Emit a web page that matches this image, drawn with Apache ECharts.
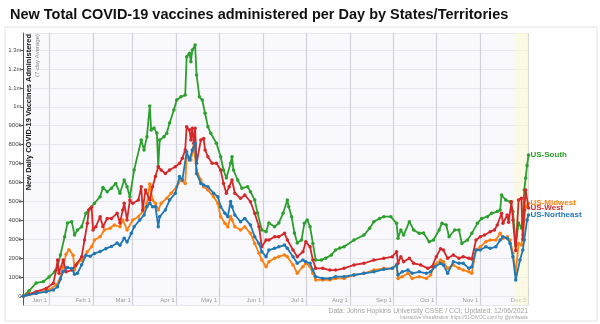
<!DOCTYPE html>
<html><head><meta charset="utf-8">
<script src="https://cdn.jsdelivr.net/npm/echarts@6/dist/echarts.min.js"></script>
<style>html,body{margin:0;padding:0;background:#fff}#c{width:600px;height:324px}</style>
</head><body><div id="c"></div>
<script>
// values in thousands of doses per day (7-day average)
const seriesNames = ['US-South', 'US-Midwest', 'US-West', 'US-Northeast'];
const seriesColors = ['#2ca02c', '#ff7f0e', '#d62728', '#1f77b4'];

const south = [
['2020-12-14',0],['2020-12-18',28],['2020-12-23',69],['2020-12-28',76],['2021-01-01',100],['2021-01-05',128],['2021-01-07',155],['2021-01-09',217],['2021-01-12',313],['2021-01-14',386],['2021-01-17',393],['2021-01-19',322],['2021-01-21',349],['2021-01-24',366],['2021-01-27',437],['2021-01-30',463],['2021-02-02',490],['2021-02-06',525],['2021-02-08',574],['2021-02-11',551],['2021-02-14',570],['2021-02-17',595],['2021-02-20',543],['2021-02-23',613],['2021-02-25',578],['2021-02-27',525],['2021-03-02',666],['2021-03-07',824],['2021-03-09',772],['2021-03-11',842],['2021-03-13',1004],['2021-03-14',877],['2021-03-16',888],['2021-03-18',861],['2021-03-19',683],['2021-03-20',824],['2021-03-23',842],['2021-03-25',860],['2021-03-27',914],['2021-03-30',983],['2021-04-01',1036],['2021-04-04',1053],['2021-04-07',1062],['2021-04-08',1265],['2021-04-10',1283],['2021-04-11',1238],['2021-04-12',1300],['2021-04-14',1326],['2021-04-15',1168],['2021-04-17',1053],['2021-04-19',1036],['2021-04-21',966],['2021-04-23',895],['2021-04-25',860],['2021-04-29',807],['2021-05-02',736],['2021-05-04',666],['2021-05-06',624],['2021-05-09',702],['2021-05-10',736],['2021-05-11',666],['2021-05-14',613],['2021-05-17',570],['2021-05-21',578],['2021-05-23',551],['2021-05-26',507],['2021-05-28',438],['2021-05-31',349],['2021-06-03',340],['2021-06-05',386],['2021-06-09',366],['2021-06-12',386],['2021-06-15',437],['2021-06-18',507],['2021-06-19',472],['2021-06-21',419],['2021-06-23',333],['2021-06-25',280],['2021-06-28',296],['2021-06-30',384],['2021-07-02',402],['2021-07-04',366],['2021-07-06',278],['2021-07-08',190],['2021-07-12',190],['2021-07-15',200],['2021-07-19',217],['2021-07-22',243],['2021-07-25',254],['2021-07-28',260],['2021-08-04',296],['2021-08-11',322],['2021-08-15',358],['2021-08-18',393],['2021-08-22',410],['2021-08-25',419],['2021-08-30',419],['2021-09-03',384],['2021-09-04',305],['2021-09-06',349],['2021-09-08',322],['2021-09-12',393],['2021-09-15',349],['2021-09-19',331],['2021-09-22',333],['2021-09-26',287],['2021-09-29',296],['2021-10-03',349],['2021-10-05',384],['2021-10-08',375],['2021-10-10',313],['2021-10-14',349],['2021-10-17',349],['2021-10-19',278],['2021-10-23',296],['2021-10-26',331],['2021-10-30',384],['2021-11-02',410],['2021-11-06',419],['2021-11-09',437],['2021-11-13',446],['2021-11-15',455],['2021-11-16',534],['2021-11-19',507],['2021-11-22',498],['2021-11-24',446],['2021-11-26',270],['2021-11-28',386],['2021-11-30',360],['2021-12-01',420],['2021-12-02',560],['2021-12-03',624],['2021-12-04',690],['2021-12-05',745]
];

const midwest = [
['2020-12-14',0],['2020-12-23',14],['2021-01-01',32],['2021-01-06',58],['2021-01-08',76],['2021-01-11',155],['2021-01-13',220],['2021-01-15',245],['2021-01-18',215],['2021-01-19',137],['2021-01-21',173],['2021-01-24',190],['2021-01-26',208],['2021-01-28',234],['2021-01-31',260],['2021-02-02',296],['2021-02-06',313],['2021-02-09',349],['2021-02-13',358],['2021-02-16',375],['2021-02-20',366],['2021-02-22',402],['2021-02-25',349],['2021-03-01',402],['2021-03-05',419],['2021-03-08',446],['2021-03-11',490],['2021-03-13',592],['2021-03-15',507],['2021-03-17',490],['2021-03-19',455],['2021-03-21',490],['2021-03-25',516],['2021-03-28',543],['2021-04-01',578],['2021-04-04',613],['2021-04-07',595],['2021-04-08',736],['2021-04-11',719],['2021-04-13',789],['2021-04-14',798],['2021-04-15',666],['2021-04-18',613],['2021-04-20',578],['2021-04-23',560],['2021-04-27',525],['2021-04-30',490],['2021-05-02',419],['2021-05-05',384],['2021-05-07',366],['2021-05-09',420],['2021-05-10',402],['2021-05-12',366],['2021-05-16',349],['2021-05-19',366],['2021-05-23',331],['2021-05-26',278],['2021-05-29',226],['2021-05-31',190],['2021-06-03',155],['2021-06-05',181],['2021-06-09',199],['2021-06-12',208],['2021-06-16',217],['2021-06-18',208],['2021-06-22',164],['2021-06-25',120],['2021-06-29',155],['2021-07-01',173],['2021-07-04',155],['2021-07-06',120],['2021-07-08',85],['2021-07-13',85],['2021-07-18',85],['2021-07-22',93],['2021-07-28',93],['2021-08-04',111],['2021-08-11',120],['2021-08-18',137],['2021-08-25',146],['2021-08-31',146],['2021-09-03',164],['2021-09-04',93],['2021-09-07',102],['2021-09-11',120],['2021-09-14',93],['2021-09-19',102],['2021-09-24',93],['2021-09-27',111],['2021-09-30',164],['2021-10-04',190],['2021-10-06',181],['2021-10-09',146],['2021-10-13',164],['2021-10-17',146],['2021-10-20',137],['2021-10-24',128],['2021-10-26',120],['2021-10-29',243],['2021-11-01',260],['2021-11-05',287],['2021-11-08',296],['2021-11-12',296],['2021-11-15',331],['2021-11-17',305],['2021-11-20',313],['2021-11-22',296],['2021-11-24',226],['2021-11-26',120],['2021-11-28',278],['2021-11-30',269],['2021-12-01',322],['2021-12-03',472],['2021-12-05',490]
];

const west = [
['2020-12-14',0],['2020-12-18',10],['2020-12-23',23],['2020-12-30',40],['2021-01-04',67],['2021-01-06',137],['2021-01-07',190],['2021-01-08',120],['2021-01-11',190],['2021-01-13',128],['2021-01-17',137],['2021-01-20',164],['2021-01-24',208],['2021-01-26',296],['2021-01-28',384],['2021-01-29',455],['2021-01-31',470],['2021-02-01',349],['2021-02-03',366],['2021-02-06',419],['2021-02-08',366],['2021-02-11',410],['2021-02-14',410],['2021-02-18',437],['2021-02-20',386],['2021-02-22',455],['2021-02-23',490],['2021-02-25',402],['2021-02-27',507],['2021-03-01',490],['2021-03-05',507],['2021-03-07',578],['2021-03-08',455],['2021-03-10',560],['2021-03-13',507],['2021-03-15',578],['2021-03-17',631],['2021-03-19',683],['2021-03-21',666],['2021-03-24',648],['2021-03-27',666],['2021-03-31',683],['2021-04-03',701],['2021-04-05',728],['2021-04-07',772],['2021-04-08',895],['2021-04-10',877],['2021-04-11',824],['2021-04-12',886],['2021-04-13',807],['2021-04-14',886],['2021-04-15',701],['2021-04-18',824],['2021-04-20',833],['2021-04-21',772],['2021-04-23',736],['2021-04-26',701],['2021-04-29',701],['2021-05-02',666],['2021-05-04',595],['2021-05-06',543],['2021-05-08',578],['2021-05-10',613],['2021-05-12',543],['2021-05-16',516],['2021-05-19',534],['2021-05-23',498],['2021-05-26',437],['2021-05-29',366],['2021-05-31',260],['2021-06-03',296],['2021-06-05',296],['2021-06-09',313],['2021-06-12',313],['2021-06-16',331],['2021-06-18',296],['2021-06-22',243],['2021-06-25',208],['2021-06-29',234],['2021-07-01',287],['2021-07-04',260],['2021-07-06',190],['2021-07-08',146],['2021-07-13',146],['2021-07-18',137],['2021-07-22',137],['2021-07-28',146],['2021-08-04',164],['2021-08-11',173],['2021-08-18',190],['2021-08-25',199],['2021-08-31',208],['2021-09-03',234],['2021-09-04',173],['2021-09-06',208],['2021-09-08',181],['2021-09-12',199],['2021-09-15',173],['2021-09-20',164],['2021-09-25',146],['2021-09-28',155],['2021-10-01',208],['2021-10-04',250],['2021-10-06',243],['2021-10-09',199],['2021-10-13',217],['2021-10-17',199],['2021-10-20',208],['2021-10-24',199],['2021-10-26',195],['2021-10-29',296],['2021-11-01',313],['2021-11-04',322],['2021-11-08',340],['2021-11-11',349],['2021-11-13',375],['2021-11-16',437],['2021-11-17',384],['2021-11-20',428],['2021-11-21',390],['2021-11-23',498],['2021-11-24',402],['2021-11-26',240],['2021-11-28',507],['2021-11-30',516],['2021-12-01',300],['2021-12-02',455],['2021-12-03',560],['2021-12-05',465]
];

const northeast = [
['2020-12-14',0],['2020-12-23',14],['2020-12-30',23],['2021-01-04',32],['2021-01-07',49],['2021-01-09',90],['2021-01-11',130],['2021-01-14',150],['2021-01-17',145],['2021-01-19',115],['2021-01-21',120],['2021-01-24',165],['2021-01-27',215],['2021-01-30',210],['2021-02-02',225],['2021-02-06',235],['2021-02-10',250],['2021-02-14',262],['2021-02-18',280],['2021-02-20',268],['2021-02-23',305],['2021-02-25',285],['2021-02-28',331],['2021-03-02',366],['2021-03-06',402],['2021-03-09',428],['2021-03-11',472],['2021-03-13',490],['2021-03-15',472],['2021-03-17',472],['2021-03-19',366],['2021-03-20',419],['2021-03-24',455],['2021-03-27',507],['2021-03-31',543],['2021-04-03',631],['2021-04-05',613],['2021-04-08',763],['2021-04-10',719],['2021-04-12',772],['2021-04-14',807],['2021-04-15',648],['2021-04-18',595],['2021-04-20',586],['2021-04-23',578],['2021-04-27',543],['2021-04-30',525],['2021-05-02',472],['2021-05-05',437],['2021-05-07',419],['2021-05-09',500],['2021-05-10',472],['2021-05-12',428],['2021-05-16',393],['2021-05-19',410],['2021-05-23',375],['2021-05-26',313],['2021-05-29',278],['2021-05-31',234],['2021-06-03',208],['2021-06-05',243],['2021-06-09',252],['2021-06-12',260],['2021-06-16',269],['2021-06-18',252],['2021-06-22',208],['2021-06-25',173],['2021-06-29',190],['2021-07-01',181],['2021-07-04',173],['2021-07-06',137],['2021-07-08',102],['2021-07-13',93],['2021-07-18',93],['2021-07-22',102],['2021-07-28',102],['2021-08-04',111],['2021-08-11',120],['2021-08-18',128],['2021-08-25',141],['2021-08-31',146],['2021-09-03',164],['2021-09-04',111],['2021-09-07',128],['2021-09-11',137],['2021-09-14',120],['2021-09-19',128],['2021-09-24',120],['2021-09-27',128],['2021-09-30',155],['2021-10-04',173],['2021-10-06',164],['2021-10-09',120],['2021-10-13',181],['2021-10-17',173],['2021-10-20',173],['2021-10-24',146],['2021-10-26',155],['2021-10-29',243],['2021-11-01',243],['2021-11-05',260],['2021-11-08',252],['2021-11-12',260],['2021-11-15',296],['2021-11-17',313],['2021-11-20',305],['2021-11-22',278],['2021-11-24',208],['2021-11-26',85],['2021-11-29',190],['2021-12-01',243],['2021-12-02',296],['2021-12-04',402],['2021-12-05',428]
];

const xTickDates = ['2021-01-01','2021-02-01','2021-03-01','2021-04-01','2021-05-01','2021-06-01','2021-07-01','2021-08-01','2021-09-01','2021-10-01','2021-11-01','2021-12-05'];
const xTickLabels = ['Jan 1','Feb 1','Mar 1','Apr 1','May 1','Jun 1','Jul 1','Aug 1','Sep 1','Oct 1','Nov 1','Dec 5'];
const xMin = '2020-12-14', xMax = '2021-12-05';
const shadeRange = ['2021-11-25', '2021-12-05'];

function ts(s) { const p = s.split('-').map(Number); return Date.UTC(p[0], p[1] - 1, p[2]); }
const tickTs = xTickDates.map(ts);
const allData = [south, midwest, west, northeast];
const FONT = '"Liberation Sans", Arial, sans-serif';

const chart = echarts.init(document.getElementById('c'), null, {renderer: 'canvas'});
const series = allData.map((d, i) => ({
  name: seriesNames[i],
  type: 'line',
  data: d.map(p => [ts(p[0]), p[1] * 1000]),
  symbol: 'circle',
  symbolSize: 3.5,
  showSymbol: true,
  lineStyle: {width: 1.8, color: seriesColors[i]},
  itemStyle: {color: seriesColors[i]},
  endLabel: {show: true, formatter: '{a}', color: seriesColors[i], fontSize: 8, fontWeight: 'bold', fontFamily: FONT, distance: 2},
  z: 3 + i,
  animation: false
}));
series[0].markArea = {
  silent: true,
  itemStyle: {color: 'rgba(255,250,200,0.45)'},
  data: [[{xAxis: ts(shadeRange[0])}, {xAxis: ts(shadeRange[1])}]]
};

chart.setOption({
  animation: false,
  title: {
    text: 'New Total COVID-19 vaccines administered per Day by States/Territories',
    left: 5, top: 2,
    textStyle: {fontFamily: FONT, fontWeight: 'bold', fontSize: 14.5, color: '#111'}
  },
  grid: {left: 23.5, right: 71.5, top: 33, bottom: 19, show: true, backgroundColor: '#f9f9fd', borderWidth: 0},
  xAxis: {
    type: 'value',
    min: ts(xMin), max: ts(xMax),
    axisLine: {show: false},
    axisTick: {show: true, inside: true, length: 8, customValues: tickTs, lineStyle: {color: '#c8c8d0', width: 1}},
    axisLabel: {
      customValues: tickTs, inside: true, margin: 2, fontSize: 6, color: '#999', fontFamily: FONT,
      align: 'right', padding: [0, 2, 0, 0],
      formatter: v => { const i = tickTs.findIndex(t => Math.abs(t - v) < 43200000); return i >= 0 ? xTickLabels[i] : ''; }
    },
    splitLine: {show: true, lineStyle: {color: '#d2d2da', width: 1.2}}
  },
  yAxis: {
    type: 'value',
    min: -47600, max: 1390000,
    minInterval: 100000, maxInterval: 100000,
    axisLine: {show: true, lineStyle: {color: '#555', width: 1}},
    axisTick: {show: true, length: 3, lineStyle: {color: '#555'}},
    axisLabel: {
      showMinLabel: false, showMaxLabel: false, fontSize: 6, color: '#444', margin: 2, fontFamily: FONT,
      formatter: v => v === 0 ? '0' : (v >= 1e6 ? (v / 1e6) + 'm' : (v / 1000) + 'k')
    },
    splitLine: {show: true, lineStyle: {color: '#e7e7ef', width: 1}}
  },
  graphic: [
    {type: 'rect', z: -100, shape: {x: 5, y: 27, width: 592, height: 294}, style: {fill: '#fff', stroke: '#e2e2e2', lineWidth: 1}},
    {type: 'text', z: 100, x: 29, y: 34, rotation: Math.PI / 2,
      style: {text: 'New Daily COVID-19 Vaccines Administered', font: 'bold 7.5px ' + FONT, fill: '#111', align: 'right', verticalAlign: 'middle'}},
    {type: 'text', z: 100, x: 37, y: 34, rotation: Math.PI / 2,
      style: {text: '(7-day Average)', font: '6px ' + FONT, fill: '#888', align: 'right', verticalAlign: 'middle'}},
    {type: 'text', z: 100, x: 528, y: 311,
      style: {text: 'Data: Johns Hopkins University CSSE / CCI; Updated: 12/06/2021', font: '6.8px ' + FONT, fill: '#a2a2a2', align: 'right', verticalAlign: 'middle'}},
    {type: 'text', z: 100, x: 528, y: 317.5,
      style: {text: 'Interactive Visualization: https://91-DIVOC.com/ by @profwade', font: '4.6px ' + FONT, fill: '#a2a2a2', align: 'right', verticalAlign: 'middle'}}
  ],
  series: series
});
</script></body></html>
